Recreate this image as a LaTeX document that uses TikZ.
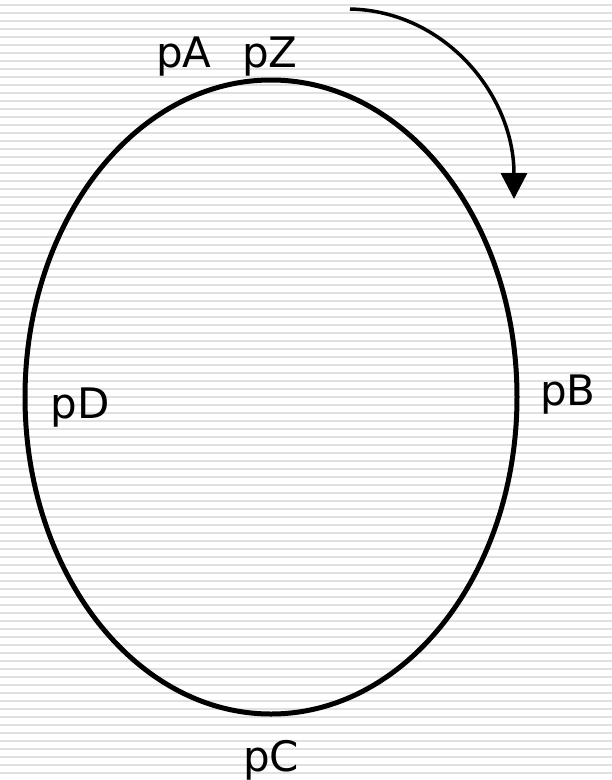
\documentclass[tikz,border=0pt]{standalone}
\usepackage{fontspec}
\setmainfont{DejaVu Sans}
\usetikzlibrary{positioning,arrows.meta,shapes.geometric}

\begin{document}
\begin{tikzpicture}[x=1pt, y=-1pt, font=\fontsize{42}{50}\selectfont,
  stripe/.style={draw=black!12, line width=1.4pt},
  ring/.style={draw=black, ellipse, line width=5pt, minimum width=492pt, minimum height=634pt, inner sep=0pt},
  lbl/.style={anchor=base, inner sep=0pt},
  arr/.style={-{Triangle[length=26pt, width=26pt]}, draw=black, line width=3.5pt}]
\useasboundingbox (0,0) rectangle (612,780);
% ruled background
\foreach \y in {5,13,...,780} \draw[stripe] (0,\y) -- (612,\y);
\node[ring] (loop) at (271,397) {};
\node[lbl] (pa) at (184,67) {pA};
\node[lbl] (pz) at (270,67) {pZ};
\node[lbl] (pd) at (80,418) {pD};
\node[lbl] (pb) at (568,405) {pB};
\node[lbl] (pc) at (271,771) {pC};
\coordinate (s) at (350,9);
\coordinate (t) at (514,199);
\draw[arr] (s) .. controls (445,11) and (514,95) .. (t);
\end{tikzpicture}
\end{document}
